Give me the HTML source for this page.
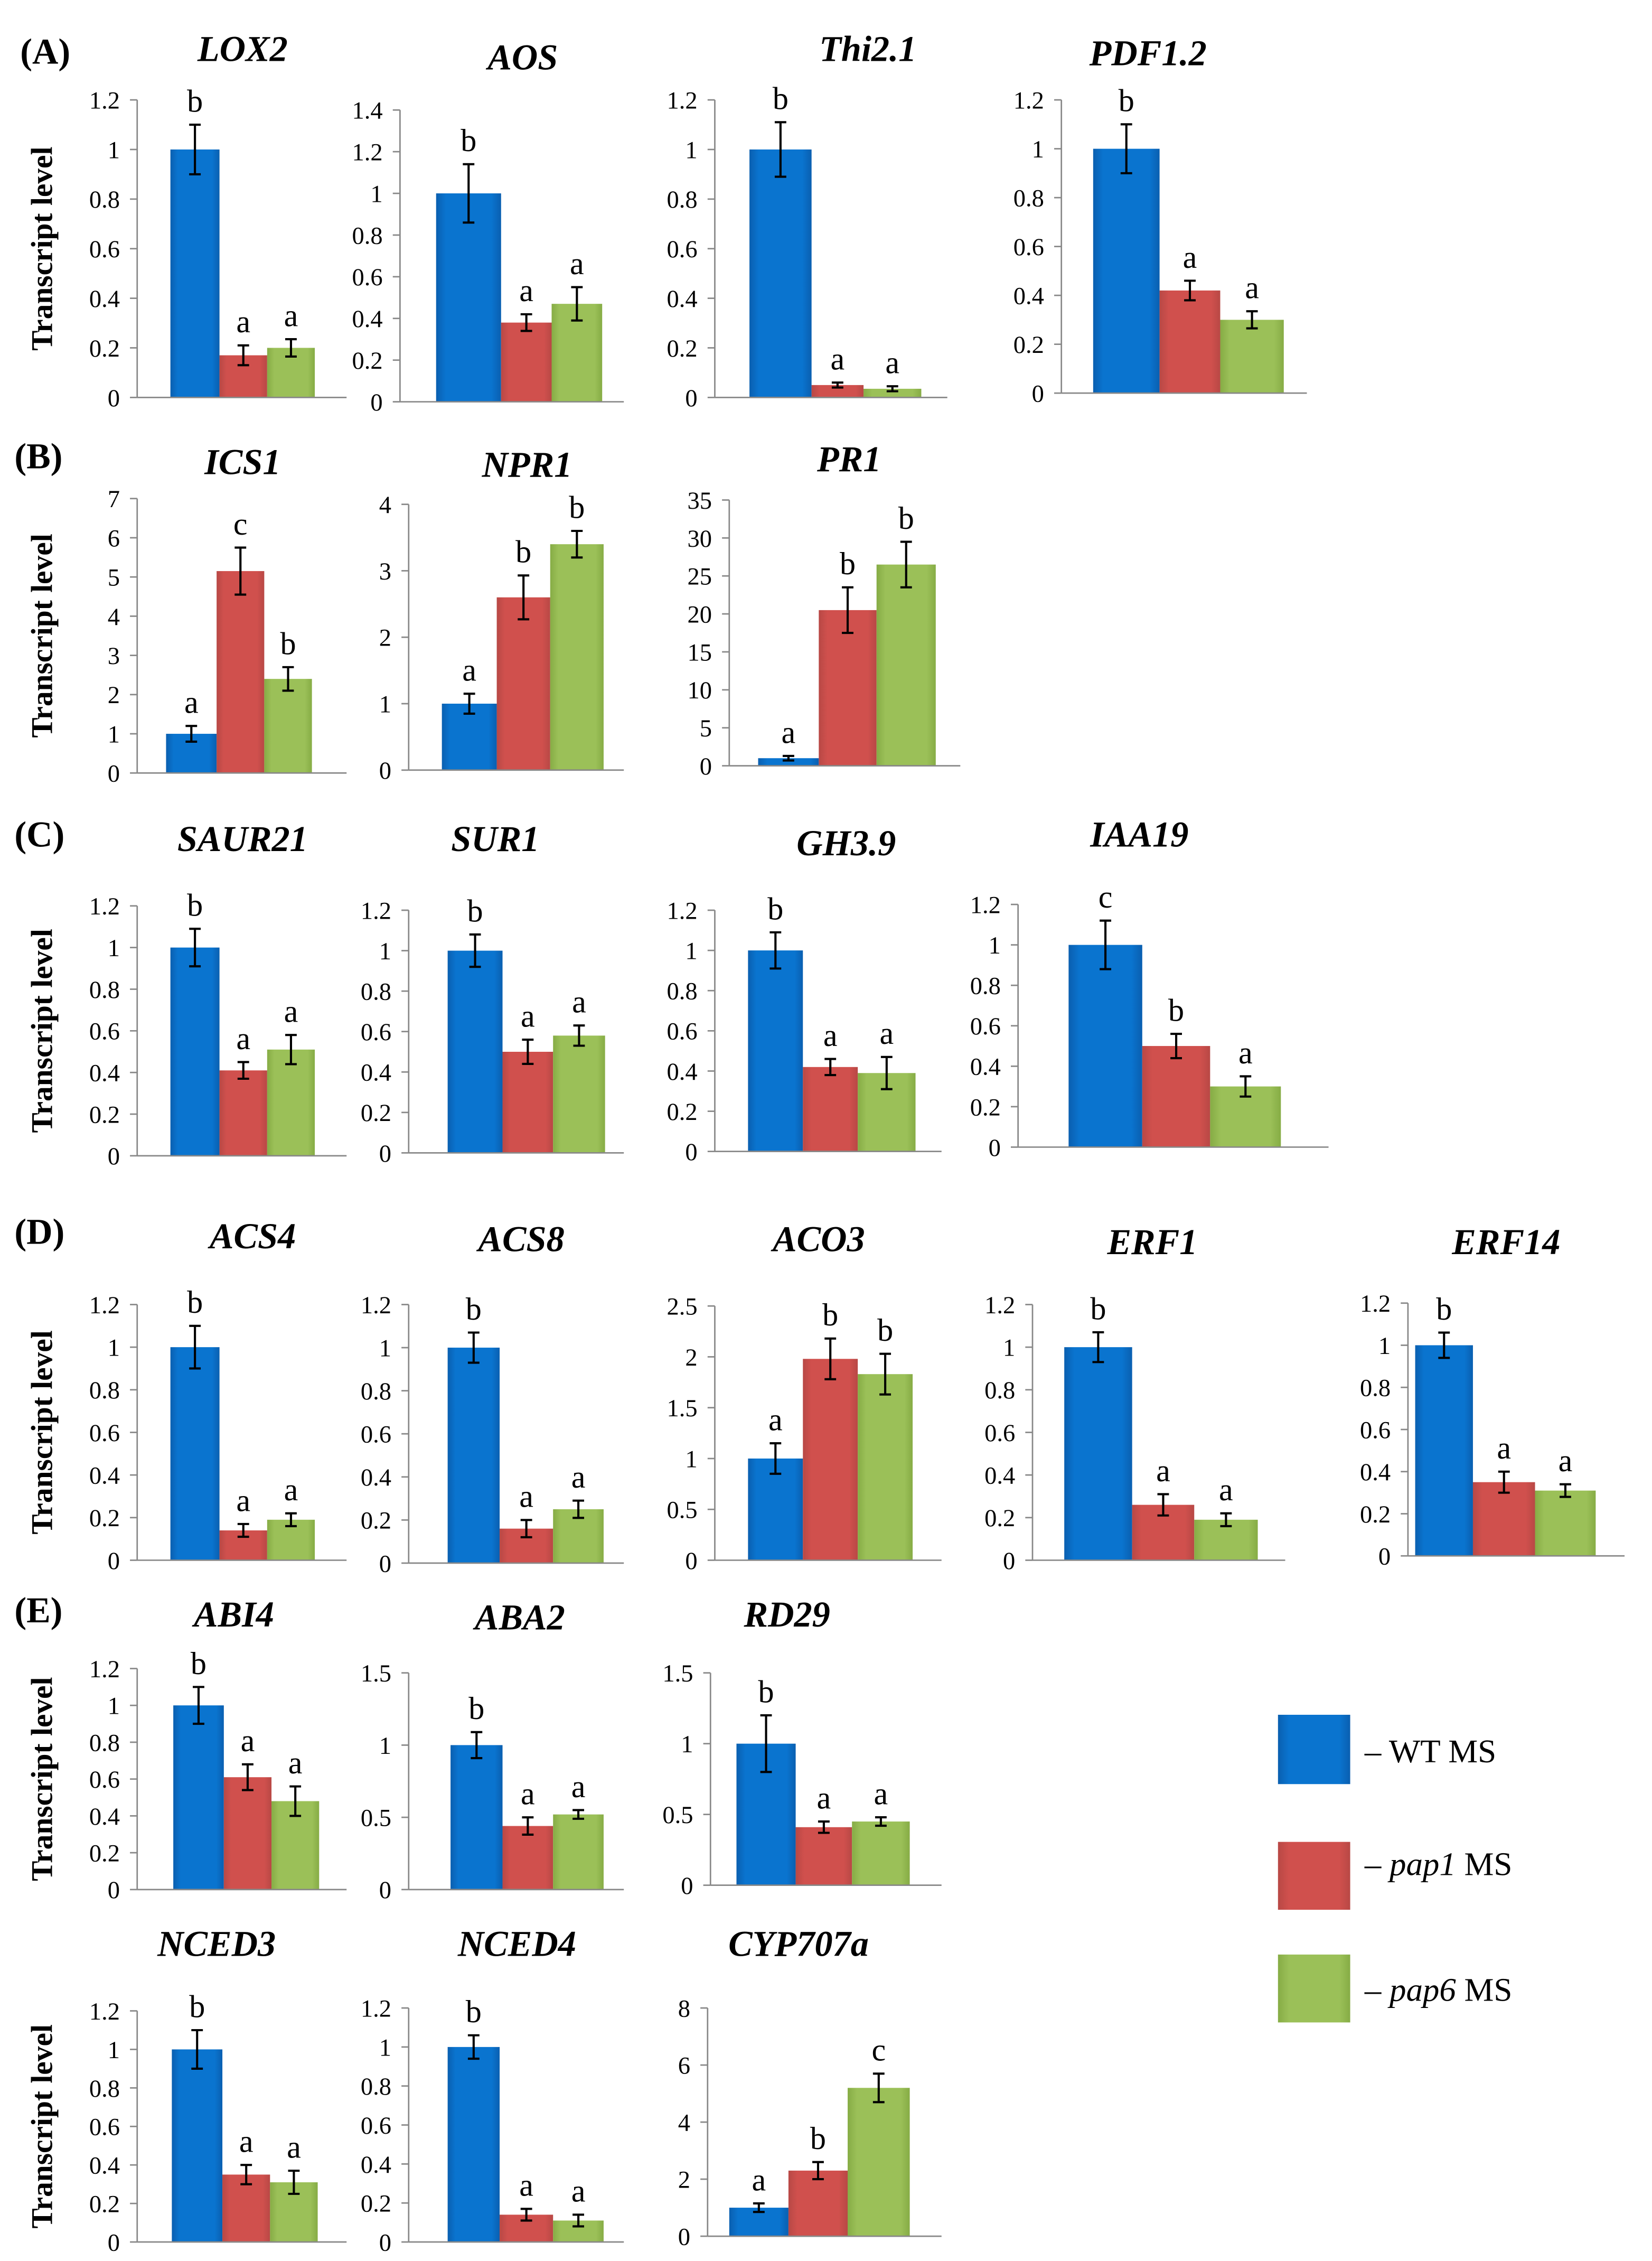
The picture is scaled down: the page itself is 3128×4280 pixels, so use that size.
<!DOCTYPE html>
<html><head><meta charset="utf-8"><style>
html,body{margin:0;padding:0;background:#fff;}
svg{display:block;font-family:"Liberation Serif","Times New Roman",serif;}
text{font-family:"Liberation Serif","Times New Roman",serif;fill:#000;}
</style></head><body>
<svg id="fig" width="3128" height="4280" viewBox="0 0 1144 1565" font-family="Liberation Serif, serif" xmlns="http://www.w3.org/2000/svg">
<defs>
<linearGradient id="gb" x1="0" x2="1"><stop offset="0" stop-color="#0a5fb0"/><stop offset="0.15" stop-color="#0a74cf"/><stop offset="0.85" stop-color="#0a74cf"/><stop offset="1" stop-color="#0a5fb0"/></linearGradient>
<linearGradient id="gr" x1="0" x2="1"><stop offset="0" stop-color="#b84845"/><stop offset="0.15" stop-color="#d0504d"/><stop offset="0.85" stop-color="#d0504d"/><stop offset="1" stop-color="#b84845"/></linearGradient>
<linearGradient id="gg" x1="0" x2="1"><stop offset="0" stop-color="#86ac45"/><stop offset="0.15" stop-color="#9bc058"/><stop offset="0.85" stop-color="#9bc058"/><stop offset="1" stop-color="#86ac45"/></linearGradient>
</defs>
<g><text x="14" y="44" font-size="25" font-weight="bold">(A)</text></g>
<g><text x="10" y="324" font-size="25" font-weight="bold">(B)</text></g>
<g><text x="10" y="586" font-size="25" font-weight="bold">(C)</text></g>
<g><text x="10" y="861" font-size="25" font-weight="bold">(D)</text></g>
<g><text x="10" y="1123" font-size="25" font-weight="bold">(E)</text></g>
<g>
<rect x="885" y="1187" width="50" height="48" fill="url(#gb)"/>
<text x="945" y="1220" font-size="23">– WT MS</text>
<rect x="885" y="1275" width="50" height="47" fill="url(#gr)"/>
<text x="945" y="1298" font-size="23">– <tspan font-style="italic">pap1</tspan> MS</text>
<rect x="885" y="1353" width="50" height="47" fill="url(#gg)"/>
<text x="945" y="1385" font-size="23">– <tspan font-style="italic">pap6</tspan> MS</text>
</g>
</svg>
<script>
const genes=["LOX2","AOS","Thi2.1","PDF1.2","ICS1","NPR1","PR1","SAUR21","SUR1","GH3.9","IAA19","ACS4","ACS8","ACO3","ERF1","ERF14","ABI4","ABA2","RD29","NCED3","NCED4","CYP707a"];
const wt=[1,1,1,1,1,1,1,1,1,1,1,1,1,1,1,1,1,1,1,1,1,1];
const pap1=[0.17,0.38,0.05,0.42,5.15,2.6,20.5,0.41,0.5,0.42,0.5,0.14,0.16,1.98,0.26,0.35,0.61,0.44,0.41,0.35,0.14,2.3];
const pap6=[0.2,0.47,0.035,0.3,2.4,3.4,26.5,0.51,0.58,0.39,0.3,0.19,0.25,1.83,0.19,0.31,0.48,0.52,0.45,0.31,0.11,5.2];
const errWt=[0.1,0.14,0.11,0.1,0.2,0.15,0.3,0.09,0.08,0.09,0.12,0.1,0.07,0.15,0.07,0.06,0.1,0.09,0.2,0.1,0.06,0.15];
const errPap1=[0.04,0.04,0.01,0.04,0.6,0.33,3,0.04,0.06,0.04,0.06,0.03,0.04,0.2,0.05,0.05,0.07,0.06,0.04,0.05,0.03,0.3];
const errPap6=[0.035,0.08,0.01,0.035,0.3,0.2,3,0.07,0.05,0.08,0.05,0.03,0.04,0.2,0.03,0.03,0.08,0.03,0.03,0.06,0.03,0.5];
const lettersWt=["b","b","b","b","a","a","a","b","b","b","c","b","b","a","b","b","b","b","b","b","b","a"];
const lettersPap1=["a","a","a","a","c","b","b","a","a","a","b","a","a","b","a","a","a","a","a","a","a","b"];
const lettersPap6=["a","a","a","a","b","b","b","a","a","a","a","a","a","b","a","a","a","a","a","a","a","c"];
const yMax=[1.2,1.4,1.2,1.2,7,4,35,1.2,1.2,1.2,1.2,1.2,1.2,2.5,1.2,1.2,1.2,1.5,1.5,1.2,1.2,8];
const yStep=[0.2,0.2,0.2,0.2,1,1,5,0.2,0.2,0.2,0.2,0.2,0.2,0.5,0.2,0.2,0.2,0.5,0.5,0.2,0.2,2];
const layout=[
[95,275,69,118,34,33,33,240,168,42],[277,278,76,302,45,35,35,432,362,48],[495,275,69,519,43,36,40,656,601,42],[735,272,69,757,46,42,44,905,795,45],
[95,535,345,115,35,33,33,240,168,328],[283,533,349,306,38,37,37,432,365,330],[505,530,346,525,42,40,41,665,588,326],
[95,800,627,118,34,33,33,240,168,589],[283,798,630,310,38,35,36,432,343,589],[495,797,630,518,38,38,40,652,586,592],[705,794,626,740,51,47,49,920,789,586],
[95,1080,903,118,34,33,33,240,175,864],[283,1082,903,310,36,37,35,432,361,866],[495,1080,904,518,38,38,38,652,567,866],[715,1080,903,737,47,43,44,890,798,868],[975,1077,902,980,40,43,42,1125,1043,868],
[95,1308,1155,120,35,33,33,240,162,1126],[283,1308,1158,312,36,35,35,432,360,1128],[492,1305,1158,510,41,39,40,652,545,1126],
[95,1552,1392,119,35,33,33,240,150,1354],[283,1552,1390,310,36,37,35,432,358,1354],[490,1548,1390,505,41,41,43,652,553,1354]];
const titleRows=[[69,275],[345,535],[627,800],[903,1080],[1155,1308],[1392,1552]];
const NS="http://www.w3.org/2000/svg";
const svg=document.getElementById('fig');
function mk(tag,attrs,parent){const e=document.createElementNS(NS,tag);for(const k in attrs)e.setAttribute(k,attrs[k]);if(tag==='text')e.setAttribute('font-family','Liberation Serif, serif');parent.appendChild(e);return e;}
function fmt(v){return (Math.round(v*10)/10).toString();}
titleRows.forEach((r,i)=>{
  const cy=(r[0]+r[1])/2;
  const t=mk('text',{x:36,y:cy,'font-size':21,'font-weight':'bold','text-anchor':'middle',transform:'rotate(-90 36 '+cy+')'},svg);
  
  
  t.textContent='Transcript level';
});
genes.forEach((g,i)=>{
  const L=layout[i];
  const [ax,y0,yt,bs,w1,w2,w3,ae,tx,ty]=L;
  const grp=mk('g',{},svg);
  
  
  const ys=v=>y0-(v/yMax[i])*(y0-yt);
  const title=mk('text',{x:tx,y:ty,'font-size':25,'font-weight':'bold','font-style':'italic','text-anchor':'middle'},grp);
  
  
  title.textContent=g;
  const ax1=mk('line',{x1:ax,y1:yt,x2:ax,y2:y0,stroke:'#888','stroke-width':1},grp);
  
  
  const n=Math.round(yMax[i]/yStep[i]);
  for(let k=0;k<=n;k++){
    const v=k*yStep[i],y=ys(v);
    const tk=mk('line',{x1:ax-5,y1:y,x2:ax,y2:y,stroke:'#888','stroke-width':1},grp);
    
    
    const tl=mk('text',{x:ax-12,y:y+6,'font-size':17,'text-anchor':'end'},grp);
    
    
    tl.textContent=fmt(v);
  }
  const vals=[wt[i],pap1[i],pap6[i]],errs=[errWt[i],errPap1[i],errPap6[i]],lets=[lettersWt[i],lettersPap1[i],lettersPap6[i]];
  const ws=[w1,w2,w3],fills=['url(#gb)','url(#gr)','url(#gg)'],names=['wt','pap1','pap6'];
  let x=bs;
  for(let s=0;s<3;s++){
    const top=ys(vals[s]);
    const b=mk('rect',{x:x,y:top,width:ws[s],height:y0-top,fill:fills[s]},grp);
    
    
    const cx=x+ws[s]/2,eh=ys(vals[s]+errs[s]),el=ys(vals[s]-errs[s]);
    const e=mk('path',{d:`M${cx} ${eh}V${el}M${cx-4} ${eh}H${cx+4}M${cx-4} ${el}H${cx+4}`,stroke:'#000','stroke-width':1.5,fill:'none'},grp);
    
    
    const lt=mk('text',{x:cx,y:eh-9,'font-size':22,'text-anchor':'middle'},grp);
    
    
    lt.textContent=lets[s];
    x+=ws[s];
  }
  const ax2=mk('line',{x1:ax,y1:y0,x2:ae,y2:y0,stroke:'#888','stroke-width':1},grp);
  
  
});
</script>
</body></html>
